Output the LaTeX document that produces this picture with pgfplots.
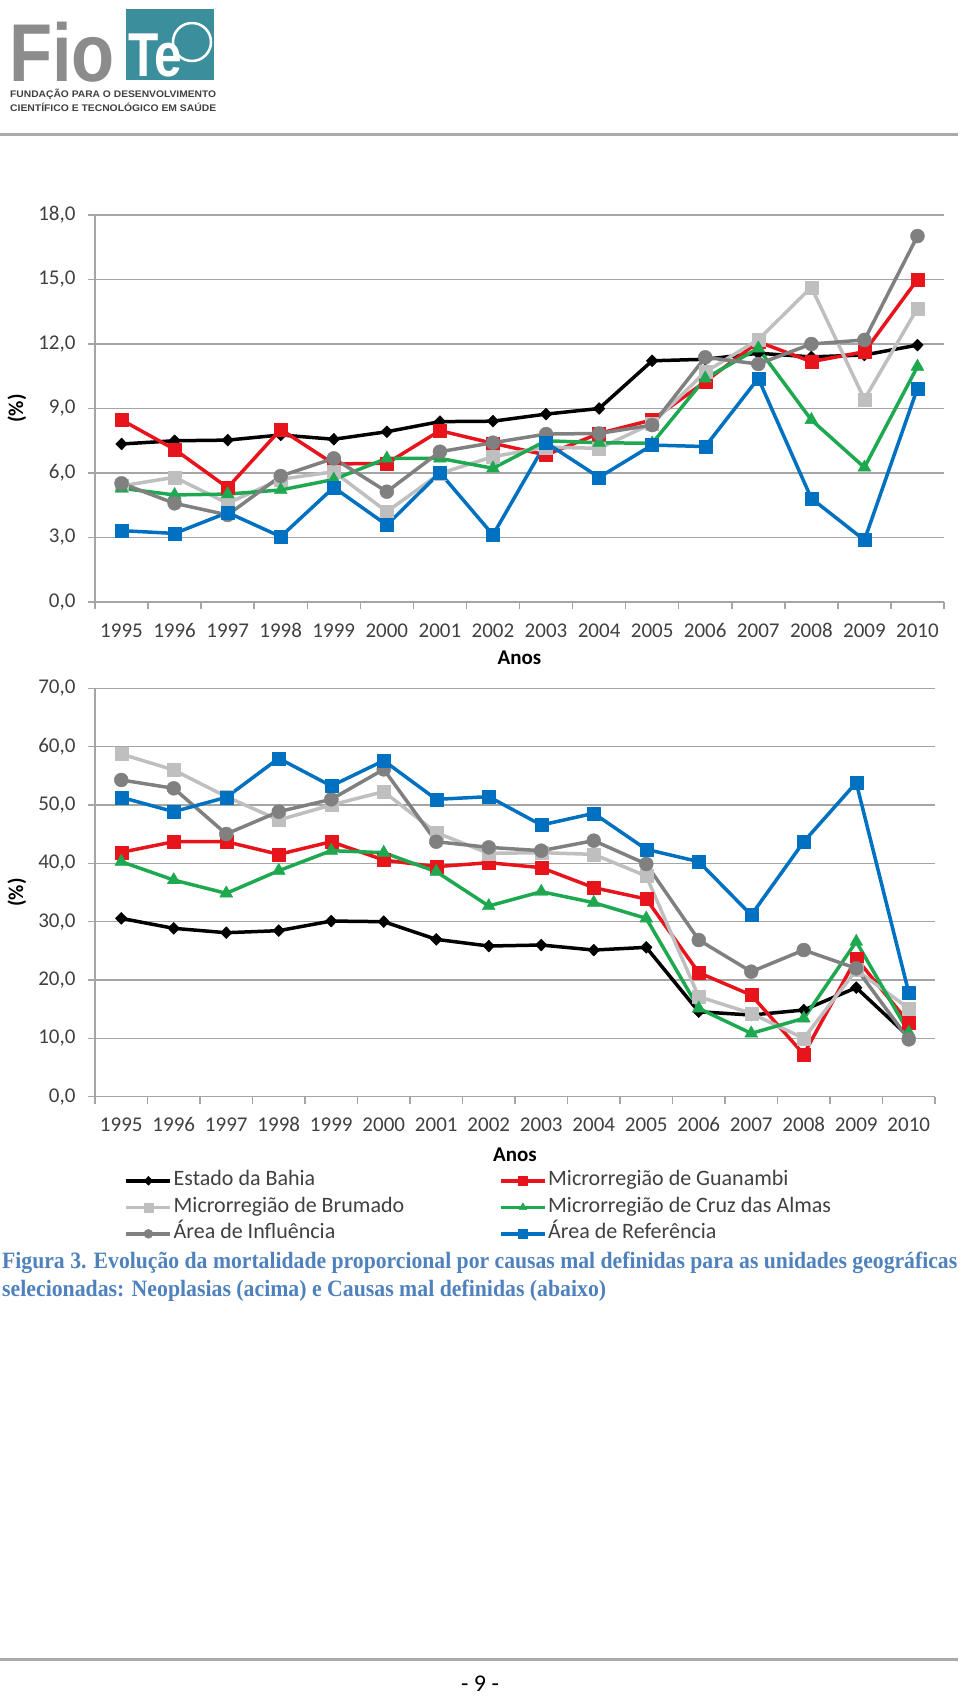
\documentclass[border=0pt]{standalone}
\usepackage{pgfplots}
\pgfplotsset{compat=1.18}
\usepackage{pgfplotstable}
\usepackage{fontspec}
\setmainfont{Carlito}
\newfontfamily\serifcap{Liberation Serif}
\newfontfamily\logofont{Liberation Sans}

\definecolor{cbahia}{RGB}{0,0,0}
\definecolor{cguan}{RGB}{232,20,27}
\definecolor{cbrum}{RGB}{191,191,191}
\definecolor{ccruz}{RGB}{30,168,80}
\definecolor{cinfl}{RGB}{128,128,128}
\definecolor{cref}{RGB}{0,112,192}
\definecolor{gridgray}{RGB}{165,165,165}
\definecolor{labelgray}{RGB}{64,64,64}
\definecolor{linegray}{RGB}{170,170,170}
\definecolor{capblue}{RGB}{79,129,189}
\definecolor{logogray}{RGB}{140,140,140}
\definecolor{logoteal}{RGB}{59,143,156}

\pgfplotstableread{
x bahia guan brum cruz infl ref
0  7.35  8.47  5.40  5.29  5.52  3.32
1  7.50  7.10  5.80  4.98  4.59  3.19
2  7.53  5.32  4.59  5.02  4.05  4.16
3  7.77  8.03  5.71  5.21  5.86  3.04
4  7.57  6.42  6.06  5.70  6.68  5.33
5  7.92  6.45  4.20  6.68  5.13  3.58
6  8.39  7.97  5.98  6.68  6.99  6.02
7  8.41  7.38  6.76  6.22  7.41  3.12
8  8.74  6.84  7.20  7.50  7.81  7.41
9  9.00  7.84  7.15  7.41  7.84  5.80
10 11.22 8.47  8.30  7.38  8.23  7.30
11 11.29 10.25 10.70 10.40 11.38 7.23
12 11.57 12.10 12.20 11.80 11.07 10.40
13 11.40 11.18 14.64 8.47  12.00 4.82
14 11.49 11.64 9.43  6.26  12.19 2.88
15 11.95 15.00 13.66 10.95 17.02 9.94
}\topdata

\pgfplotstableread{
x bahia guan brum cruz infl ref
0  30.57 41.89 58.74 40.29 54.29 51.31
1  28.86 43.71 56.00 37.14 52.86 48.86
2  28.11 43.71 51.43 34.86 45.03 51.31
3  28.46 41.54 47.43 38.74 48.86 58.00
4  30.11 43.71 50.00 42.17 50.97 53.26
5  30.00 40.57 52.29 41.83 56.11 57.60
6  26.97 39.43 45.26 38.57 43.71 50.97
7  25.83 40.11 41.71 32.69 42.74 51.43
8  26.00 39.26 41.83 35.14 42.17 46.57
9  25.14 35.83 41.54 33.26 43.89 48.57
10 25.60 33.89 37.83 30.57 39.89 42.40
11 14.57 21.26 17.14 15.14 26.86 40.29
12 14.00 17.43 14.29 10.86 21.43 31.14
13 14.86 7.26  10.00 13.43 25.14 43.71
14 18.69 23.71 21.71 26.57 22.00 53.83
15 10.30 12.69 15.14 11.00 9.83  17.83
}\botdata

\pgfplotsset{
  sbase/.style={line width=3.5pt, line join=round},
  sbahia/.style={sbase, cbahia, mark=diamond*, mark size=6pt, mark options={solid, line width=0.4pt, fill=cbahia, xscale=1.3}},
  sguan/.style={sbase, cguan, mark=square*, mark size=6.5pt, mark options={solid, line width=0.4pt, fill=cguan}},
  sbrum/.style={sbase, cbrum, mark=square*, mark size=6.5pt, mark options={solid, line width=0.4pt, fill=cbrum}},
  scruz/.style={sbase, ccruz, mark=triangle*, mark size=7.5pt, mark options={solid, line width=0.4pt, fill=ccruz}},
  sinfl/.style={sbase, cinfl, mark=*, mark size=7pt, mark options={solid, line width=0.4pt, fill=cinfl}},
  sref/.style={sbase, cref, mark=square*, mark size=6.5pt, mark options={solid, line width=0.4pt, fill=cref}},
  chartbase/.style={
    scale only axis, anchor=south west,
    xmin=-0.5, xmax=15.5,
    axis lines*=left,
    axis line style={draw=gridgray, line width=1.5pt},
    ymajorgrids, grid style={draw=gridgray, line width=1.5pt},
    xtick={0,...,15},
    xticklabels={1995,1996,1997,1998,1999,2000,2001,2002,2003,2004,2005,2006,2007,2008,2009,2010},
    minor xtick={-0.5,0.5,...,15.5},
    major x tick style={draw=none},
    minor x tick style={draw=gridgray, line width=1.5pt},
    major y tick style={draw=gridgray, line width=1.5pt},
    tick align=outside,
    major tick length=7pt, minor tick length=7pt,
    ticklabel style={font=\fontsize{21}{25}\selectfont, text=labelgray},
    /pgf/number format/assume math mode=true,
    yticklabel={\pgfmathprintnumber[fixed,fixed zerofill,precision=1,use comma]{\tick}},
    yticklabel style={xshift=-9pt},
    xticklabel style={anchor=base, yshift=-28pt, text height=14pt, text depth=0pt},
    xlabel={Anos},
    ylabel={(\%)},
    label style={font=\fontsize{21}{25}\selectfont\bfseries, text=black},
    clip=false,
  },
}

\begin{document}
\begin{tikzpicture}
\path[use as bounding box] (0pt,0pt) rectangle (960pt,-1698pt);

% logo
\node[anchor=base west, inner sep=0pt, text=logogray] at (9pt,-81pt)
  {\scalebox{0.86}[1]{\logofont\bfseries\fontsize{82}{82}\selectfont Fio}};
\fill[logoteal] (126pt,-9pt) rectangle (214pt,-80pt);
\node[anchor=base west, inner sep=0pt, text=white] at (128pt,-76pt)
  {\scalebox{0.8}[1]{\logofont\bfseries\fontsize{62}{62}\selectfont Te}};
\draw[white, line width=2.5pt] (192pt,-42pt) circle (19pt);
\node[anchor=base west, inner sep=0pt, text=labelgray] at (10pt,-97pt)
  {\resizebox{206pt}{8.5pt}{\logofont\bfseries FUNDAÇÃO PARA O DESENVOLVIMENTO}};
\node[anchor=base west, inner sep=0pt, text=labelgray] at (10pt,-111pt)
  {\resizebox{206pt}{8.5pt}{\logofont\bfseries CIENTÍFICO E TECNOLÓGICO EM SAÚDE}};
\fill[linegray] (0pt,-132.5pt) rectangle (958pt,-136pt);

% top chart
\begin{axis}[chartbase,
  at={(95pt,-602pt)}, width=849pt, height=387pt,
  ymin=0, ymax=18, ytick={0,3,...,18},
  xlabel style={at={(axis description cs:0.5,-0.1447)}, anchor=center},
  ylabel style={at={(axis description cs:-0.0919,0.5)}, anchor=center},
]
\addplot[sbahia] table[x=x,y=bahia]{\topdata};
\addplot[sguan] table[x=x,y=guan]{\topdata};
\addplot[sbrum] table[x=x,y=brum]{\topdata};
\addplot[scruz] table[x=x,y=cruz]{\topdata};
\addplot[sinfl] table[x=x,y=infl]{\topdata};
\addplot[sref] table[x=x,y=ref]{\topdata};
\end{axis}

% bottom chart
\begin{axis}[chartbase,
  at={(95pt,-1096.7pt)}, width=840pt, height=408.4pt,
  ymin=0, ymax=70, ytick={0,10,...,70},
  xlabel style={at={(axis description cs:0.5,-0.1428)}, anchor=center},
  ylabel style={at={(axis description cs:-0.0929,0.5)}, anchor=center},
  legend columns=2,
  legend cell align=left,
  legend image code/.code={%
    \draw[#1, mark=none] (0pt,0pt) -- (44pt,0pt);
    \draw[#1, only marks] plot coordinates {(22pt,0pt)};},
  legend image post style={mark size=4.5pt},
  legend style={at={(axis description cs:0.0351,-0.1785)}, anchor=north west,
    draw=none, fill=none, inner sep=0pt, row sep=4.5pt,
    font=\fontsize{22}{26}\selectfont, text=labelgray,
    nodes={inner xsep=1.5pt, inner ysep=1pt, text height=15pt, text depth=5pt},
    /tikz/every even column/.append style={column sep=0pt}},
]
\addplot[sbahia] table[x=x,y=bahia]{\botdata};
\addplot[sguan] table[x=x,y=guan]{\botdata};
\addplot[sbrum] table[x=x,y=brum]{\botdata};
\addplot[scruz] table[x=x,y=cruz]{\botdata};
\addplot[sinfl] table[x=x,y=infl]{\botdata};
\addplot[sref] table[x=x,y=ref]{\botdata};
\legend{\makebox[324pt][l]{Estado da Bahia}, Microrregião de Guanambi,
  \makebox[324pt][l]{Microrregião de Brumado}, Microrregião de Cruz das Almas,
  \makebox[324pt][l]{Área de Influência}, Área de Referência}
\end{axis}

% caption
\node[anchor=west, inner sep=0pt, text=capblue] at (2pt,-1263pt)
  {\resizebox{955pt}{16.5pt}{\serifcap\bfseries\fontsize{21}{25}\selectfont Figura 3. Evolução da mortalidade proporcional por causas mal definidas para as unidades geográficas}};
\node[anchor=west, inner sep=0pt, text=capblue] at (2pt,-1291pt)
  {\resizebox{604pt}{16.5pt}{\serifcap\bfseries\fontsize{21}{25}\selectfont selecionadas: Neoplasias (acima) e Causas mal definidas (abaixo)}};

% footer
\fill[linegray] (0pt,-1657.5pt) rectangle (958pt,-1661pt);
\node[inner sep=0pt] at (480pt,-1684pt) {\fontsize{24}{28}\selectfont - 9 -};
\end{tikzpicture}
\end{document}
